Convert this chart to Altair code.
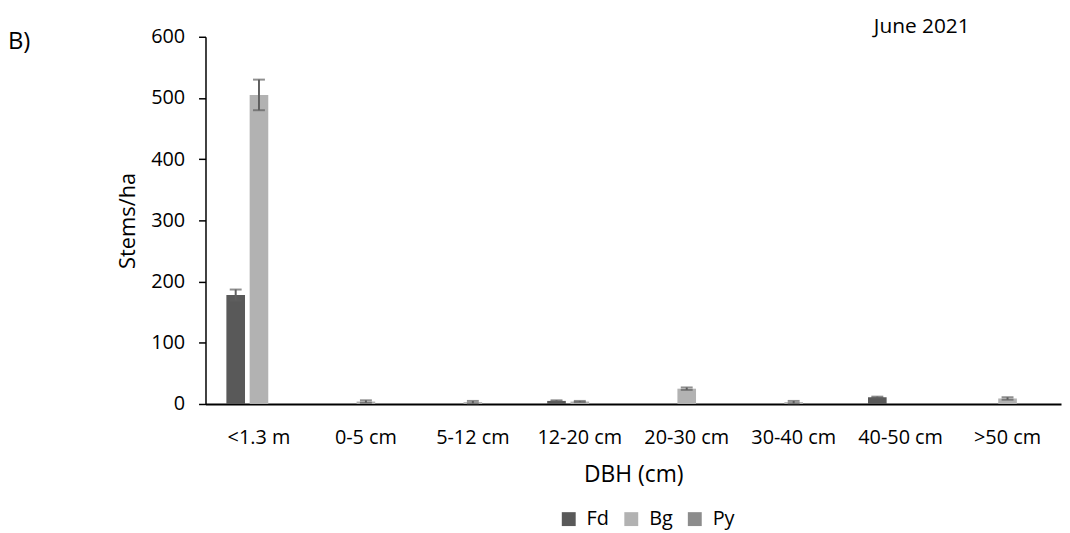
import altair as alt
import pandas as pd

categories = ["<1.3 m", "0-5 cm", "5-12 cm", "12-20 cm", "20-30 cm", "30-40 cm", "40-50 cm", ">50 cm"]
species = ["Fd", "Bg", "Py"]
fd_values = [178, 0, 0, 5, 0, 0, 11, 0]
bg_values = [505, 4, 3, 4, 25, 3, 0, 9]
py_values = [0, 0, 0, 0, 0, 0, 0, 0]
fd_err = [9, 0, 0, 1, 0, 0, 1, 0]
bg_err = [25, 2, 2, 1, 2, 2, 0, 2]
py_err = [0, 0, 0, 0, 0, 0, 0, 0]
colors = ["#595959", "#b2b2b2", "#8c8c8c"]
y_ticks = [0, 100, 200, 300, 400, 500, 600]

rows = []
for sp, vals, errs in zip(species, [fd_values, bg_values, py_values], [fd_err, bg_err, py_err]):
    for c, v, e in zip(categories, vals, errs):
        rows.append(dict(DBH=c, Species=sp, Stems=v, lo=v - e, hi=v + e, err=e))
df = pd.DataFrame(rows)
err_df = df[df.err > 0]

font = "Open Sans"

x = alt.X("DBH:N", sort=categories, title="DBH (cm)",
          scale=alt.Scale(paddingInner=0.347, paddingOuter=0.1735),
          axis=alt.Axis(labelAngle=0, ticks=False, tickSize=0, domainColor="black", domainWidth=2,
                        labelFontSize=20, labelPadding=24, labelFont=font, labelColor="black",
                        titleFontSize=23, titleFontWeight="normal", titlePadding=16,
                        titleFont=font, titleColor="black"))
xoff = alt.XOffset("Species:N", sort=species, scale=alt.Scale(domain=species, paddingInner=0.2, paddingOuter=0.1))
y = alt.Y("Stems:Q", title="Stems/ha", scale=alt.Scale(domain=[0, 600], nice=False),
          axis=alt.Axis(values=y_ticks, grid=False, domainColor="black", domainWidth=1.5,
                        tickColor="black", tickWidth=1.5, tickSize=7,
                        labelFontSize=20, labelPadding=14, labelFont=font, labelColor="black",
                        titleFontSize=22, titleFontWeight="normal", titlePadding=11,
                        titleFont=font, titleColor="black"))

bars = alt.Chart(df).mark_bar().encode(
    x=x, xOffset=xoff, y=y,
    color=alt.Color("Species:N", sort=species,
                    scale=alt.Scale(domain=species, range=colors),
                    legend=alt.Legend(orient="none", legendX=356, legendY=476, direction="horizontal",
                                      title=None, symbolType="square", symbolSize=196,
                                      symbolStrokeWidth=0, labelFontSize=20, labelFont=font,
                                      labelColor="black", columnPadding=12, labelOffset=8)),
)

rules = alt.Chart(err_df).mark_rule(color="#5f5f5f", strokeWidth=2).encode(
    x=alt.X("DBH:N", sort=categories), xOffset=alt.XOffset("Species:N", sort=species),
    y="lo:Q", y2="hi:Q")
caps_hi = alt.Chart(err_df).mark_tick(color="#5f5f5f", size=12, thickness=2).encode(
    x=alt.X("DBH:N", sort=categories), xOffset=alt.XOffset("Species:N", sort=species), y="hi:Q")
caps_lo = alt.Chart(err_df).mark_tick(color="#5f5f5f", size=12, thickness=2).encode(
    x=alt.X("DBH:N", sort=categories), xOffset=alt.XOffset("Species:N", sort=species), y="lo:Q")

panel = alt.Chart(pd.DataFrame({"label": ["B)"]})).mark_text(
    align="left", baseline="middle", fontSize=24, font=font, color="black").encode(
    x=alt.value(-199), y=alt.value(5), text="label:N")

chart = alt.layer(bars, rules, caps_hi, caps_lo, panel).properties(
    width=862, height=370,
    title=alt.TitleParams("June 2021", anchor="end", frame="group", fontSize=21, font=font,
                          fontWeight="normal", color="black", dx=-92, offset=-10),
    padding={"left": 199, "top": 27, "right": 1, "bottom": 128},
    autosize="none",
).configure_view(stroke=None)

chart.save("out.html", embed_options={"renderer": "svg", "actions": False})
